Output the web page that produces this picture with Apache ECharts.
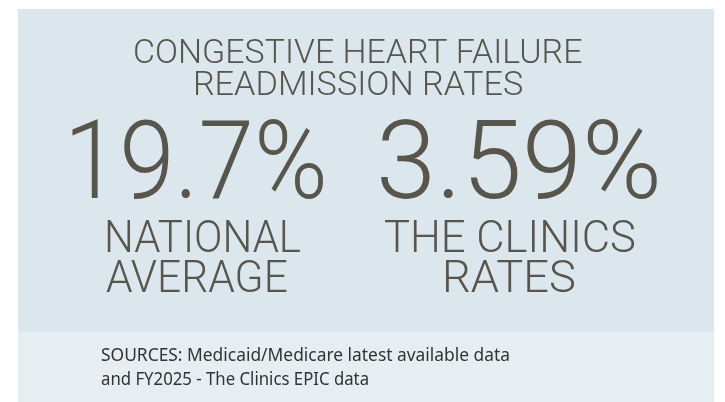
<!DOCTYPE html>
<html>
<head>
<meta charset="utf-8">
<script src="https://cdn.jsdelivr.net/npm/echarts@6/dist/echarts.min.js"></script>
<style>
html, body { margin: 0; padding: 0; background: #ffffff; }
#main { width: 725px; height: 402px; }
</style>
</head>
<body>
<div id="main"></div>
<script>
// data
var titleLines = ['CONGESTIVE HEART FAILURE', 'READMISSION RATES'];
var rateValues = [19.7, 3.59];
var rateLabels = [['NATIONAL', 'AVERAGE'], ['THE CLINICS', 'RATES']];
var sourceLines = ['SOURCES: Medicaid/Medicare latest available data', 'and FY2025 - The Clinics EPIC data'];

var ink = '#57554c';
var cvs = document.createElement('canvas').getContext('2d');

// font size so that the cap height matches, and scaleX so the ink width matches
function fitText(text, family, weight, x0, x1, baseline, capH, color) {
    cvs.font = weight + ' 100px ' + family;
    cvs.textBaseline = 'alphabetic';
    var capRatio = cvs.measureText('H').actualBoundingBoxAscent / 100;
    var size = capH / capRatio;
    var font = weight + ' ' + size.toFixed(2) + 'px ' + family;
    cvs.font = font;
    var m = cvs.measureText(text);
    var inkW = m.actualBoundingBoxLeft + m.actualBoundingBoxRight;
    var sx = (x1 - x0) / inkW;
    cvs.textBaseline = 'middle';
    var d = cvs.measureText('H').actualBoundingBoxDescent;
    return {
        type: 'text',
        x: x0 + m.actualBoundingBoxLeft * sx,
        y: baseline - d,
        scaleX: sx,
        silent: true,
        style: {
            text: text,
            font: font,
            fill: color || ink,
            align: 'left',
            verticalAlign: 'middle'
        }
    };
}

var myChart = echarts.init(document.getElementById('main'), null, { renderer: 'canvas' });

var elements = [
    { type: 'rect', shape: { x: 18, y: 9, width: 696, height: 323 }, style: { fill: '#dce6ed' }, silent: true },
    { type: 'rect', shape: { x: 18, y: 332, width: 696, height: 70 }, style: { fill: '#e7eef2' }, silent: true }
];

// title
elements.push(fitText(titleLines[0], 'Roboto', 300, 135, 582, 63, 23));
elements.push(fitText(titleLines[1], 'Roboto', 300, 195, 522, 95, 23));

// big numbers
var numBox = [[72, 323], [381, 657]];
rateValues.forEach(function (v, i) {
    elements.push(fitText(v + '%', 'Roboto', 300, numBox[i][0], numBox[i][1], 199, 78));
});

// labels under numbers
var labelBox = [
    [[107, 300], [106, 287]],
    [[385, 635], [445, 575]]
];
var labelBase = [252, 292];
rateLabels.forEach(function (lines, i) {
    lines.forEach(function (t, j) {
        elements.push(fitText(t, 'Roboto', 300, labelBox[i][j][0], labelBox[i][j][1], labelBase[j], 31));
    });
});

// sources
var srcBox = [[101, 509], [101, 368]];
var srcBase = [361, 385];
sourceLines.forEach(function (t, j) {
    elements.push(fitText(t, '"Noto Sans"', 400, srcBox[j][0], srcBox[j][1], srcBase[j], 13, '#333333'));
});

var option = {
    backgroundColor: '#ffffff',
    animation: false,
    graphic: { elements: elements }
};
myChart.setOption(option);
</script>
</body>
</html>
